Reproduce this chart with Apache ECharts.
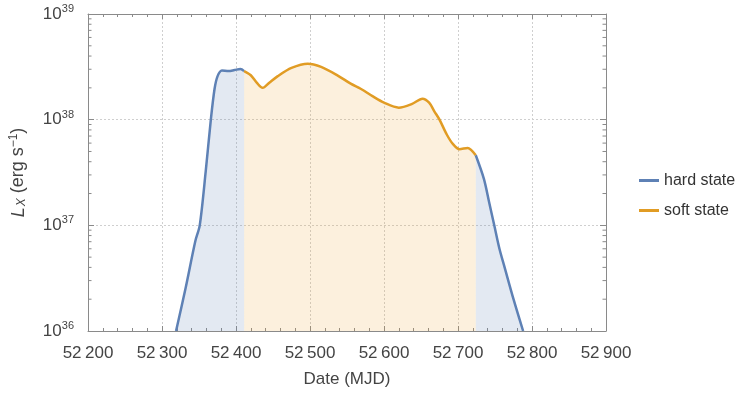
<!DOCTYPE html>
<html>
<head>
<meta charset="utf-8">
<script src="https://cdn.jsdelivr.net/npm/echarts@6/dist/echarts.min.js"></script>
<style>html,body{margin:0;padding:0;background:#fff}#c{width:739px;height:393px}</style>
</head>
<body>
<div id="c"></div>
<script>
// Data (MJD, L_X in erg/s)
var hardRiseMJD = [52319, 52332, 52345, 52351, 52359, 52366, 52371, 52375, 52381, 52390, 52398, 52406, 52411];
var hardRiseL   = [1.0e36, 2.57e36, 7.08e36, 1.0e37, 3.2e37, 1.0e38, 1.95e38, 2.57e38, 2.92e38, 2.88e38, 2.95e38, 3.02e38, 2.88e38];
var softMJD = [52411, 52420, 52428, 52436, 52445, 52456, 52475, 52497, 52515, 52537, 52555, 52569, 52585, 52600, 52620, 52638, 52652, 52661, 52668, 52675, 52685, 52693, 52702, 52713, 52724];
var softL   = [2.88e38, 2.63e38, 2.24e38, 2.0e38, 2.24e38, 2.57e38, 3.09e38, 3.39e38, 3.16e38, 2.63e38, 2.19e38, 1.95e38, 1.66e38, 1.45e38, 1.30e38, 1.41e38, 1.58e38, 1.45e38, 1.20e38, 1.0e38, 7.2e37, 5.9e37, 5.25e37, 5.4e37, 4.6e37];
var hardDecayMJD = [52724, 52735, 52742, 52749, 52756, 52763, 52775, 52788];
var hardDecayL   = [4.6e37, 2.75e37, 1.66e37, 1.0e37, 6.0e36, 4.0e36, 2.0e36, 1.0e36];
var xTicks = [52200, 52300, 52400, 52500, 52600, 52700, 52800, 52900];
var yDecades = [36, 37, 38, 39];
var minorMantissas = [2, 3, 4, 5, 6, 7, 8, 9];
var seriesNames = ['hard state', 'soft state'];

var BLUE = '#5e81b5', ORANGE = '#e19c24';
function pairs(xs, ys) { return xs.map(function (x, i) { return [x, ys[i]]; }); }

var minorVals = [];
yDecades.slice(0, 3).forEach(function (d) {
  minorMantissas.forEach(function (m) { minorVals.push([xTicks[0], m * Math.pow(10, d)]); });
});

var chart = echarts.init(document.getElementById('c'));
var frameColor = '#8a8a8a';
var labelColor = '#444';
chart.setOption({
  animation: false,
  textStyle: { fontFamily: 'Liberation Sans, Arial, sans-serif' },
  grid: { left: 87, right: 133, top: 14, bottom: 60 },
  legend: {
    data: seriesNames.map(function (n) { return { name: n, icon: 'rect' }; }),
    orient: 'vertical', left: 634, top: 167, itemWidth: 20, itemHeight: 3, itemGap: 13,
    textStyle: { fontSize: 16, color: '#333', lineHeight: 17 }
  },
  xAxis: [{
    type: 'value', min: xTicks[0], max: xTicks[xTicks.length - 1], interval: 100,
    name: 'Date (MJD)', nameLocation: 'middle', nameGap: 40,
    nameTextStyle: { fontSize: 17, color: labelColor },
    axisLine: { lineStyle: { color: frameColor } },
    axisTick: { inside: true, length: 5, lineStyle: { color: frameColor } },
    minorTick: { show: true, splitNumber: 5, length: 3, lineStyle: { color: frameColor } },
    axisLabel: { fontSize: 17, color: labelColor, margin: 14,
      formatter: function (v) { var s = String(v); return s.slice(0, 2) + '\u2009' + s.slice(2); } },
    splitLine: { show: true, lineStyle: { color: '#cfcfcf', type: [2, 2] } }
  }, {
    type: 'value', position: 'top', min: xTicks[0], max: xTicks[xTicks.length - 1], interval: 100,
    axisLine: { show: true, lineStyle: { color: frameColor } },
    axisTick: { show: true, inside: true, length: 5, lineStyle: { color: frameColor } },
    minorTick: { show: true, splitNumber: 5, length: 3, lineStyle: { color: frameColor } },
    axisLabel: { show: false }, splitLine: { show: false }
  }],
  yAxis: [{
    type: 'log', logBase: 10, min: 1e36, max: 1e39, interval: 1,
    name: '{i|L}{sub|X}{n| (erg s}{sup|−1}{n|)}', nameLocation: 'middle', nameRotate: 90, nameGap: 59,
    nameTextStyle: { color: labelColor, rich: {
      i: { fontSize: 18, fontStyle: 'italic', color: labelColor },
      sub: { fontSize: 12, fontStyle: 'italic', color: labelColor, padding: [7, 0, 0, 1] },
      n: { fontSize: 18, color: labelColor },
      sup: { fontSize: 12, color: labelColor, padding: [0, 0, 9, 0] }
    } },
    axisLine: { show: true, lineStyle: { color: frameColor } },
    axisTick: { show: true, inside: true, length: 6, lineStyle: { color: frameColor } },
    axisLabel: { margin: 14, color: labelColor,
      formatter: function (v) { return '{b|10}{s|' + Math.round(Math.log10(v)) + '}'; },
      rich: { b: { fontSize: 17, color: labelColor }, s: { fontSize: 11, color: labelColor, padding: [0, 0, 10, 0] } } },
    splitLine: { show: true, lineStyle: { color: '#cfcfcf', type: [2, 2] } }
  }, {
    type: 'log', logBase: 10, min: 1e36, max: 1e39, interval: 1, position: 'right',
    axisLine: { show: true, lineStyle: { color: frameColor } },
    axisTick: { show: true, inside: true, length: 6, lineStyle: { color: frameColor } },
    axisLabel: { show: false }, splitLine: { show: false }
  }],
  series: [{
    name: 'hard state', type: 'line', data: pairs(hardRiseMJD, hardRiseL), smooth: 0.3, showSymbol: false,
    lineStyle: { color: BLUE, width: 2.5 }, itemStyle: { color: BLUE },
    areaStyle: { origin: 'start', color: 'rgba(94,129,181,0.25)' }, z: 3
  }, {
    name: 'soft state', type: 'line', data: pairs(softMJD, softL), smooth: 0.3, showSymbol: false,
    lineStyle: { color: ORANGE, width: 2.5 }, itemStyle: { color: ORANGE },
    areaStyle: { origin: 'start', color: 'rgba(238,165,55,0.24)' }, z: 3
  }, {
    name: 'hard state', type: 'line', data: pairs(hardDecayMJD, hardDecayL), smooth: 0.3, showSymbol: false,
    lineStyle: { color: BLUE, width: 2.5 }, itemStyle: { color: BLUE },
    areaStyle: { origin: 'start', color: 'rgba(94,129,181,0.25)' }, z: 3
  }, {
    name: 'minorLogTicks', type: 'custom', silent: true, clip: false, z: 5,
    data: minorVals,
    renderItem: function (params, api) {
      var v = api.value(1);
      var l = api.coord([xTicks[0], v]);
      var r = api.coord([xTicks[xTicks.length - 1], v]);
      var st = { stroke: frameColor, lineWidth: 1 };
      return { type: 'group', children: [
        { type: 'line', shape: { x1: l[0], y1: l[1], x2: l[0] + 3.5, y2: l[1] }, style: st },
        { type: 'line', shape: { x1: r[0], y1: r[1], x2: r[0] - 3.5, y2: r[1] }, style: st }
      ] };
    }
  }]
});
</script>
</body>
</html>
